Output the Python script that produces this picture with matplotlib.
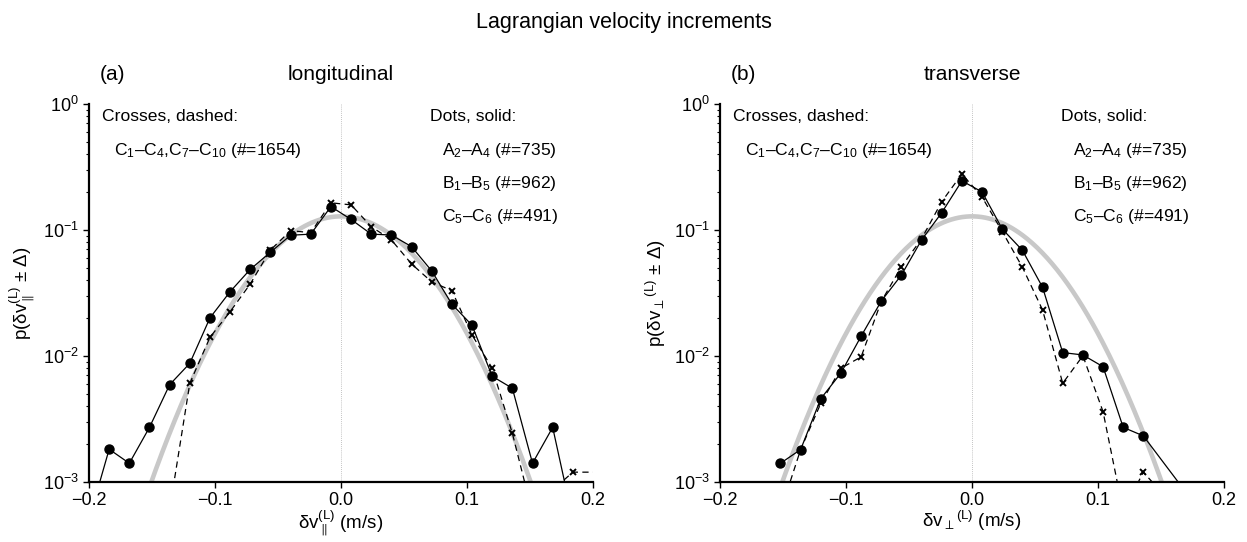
import numpy as np
import matplotlib
matplotlib.use('Agg')
import matplotlib.pyplot as plt
from matplotlib.ticker import LogLocator, FixedLocator, FuncFormatter

plt.rcParams['font.family'] = ['Liberation Sans', 'DejaVu Sans']
plt.rcParams['mathtext.fontset'] = 'custom'
plt.rcParams['mathtext.rm'] = 'Liberation Sans'
plt.rcParams['mathtext.it'] = 'Liberation Sans'
plt.rcParams['mathtext.bf'] = 'Liberation Sans:bold'
plt.rcParams['axes.unicode_minus'] = True

# --- data (bin centres in m/s, probability per bin) ---
# (a) longitudinal
long_dots_x = [-0.2, -0.184, -0.168, -0.152, -0.136, -0.12, -0.104, -0.088,
               -0.072, -0.056, -0.04, -0.024, -0.008, 0.008, 0.024, 0.04,
               0.056, 0.072, 0.088, 0.104, 0.12, 0.136, 0.152, 0.168, 0.184]
long_dots_y = [5e-4, 1.81e-3, 1.40e-3, 2.70e-3, 5.89e-3, 8.71e-3, 2.0e-2,
               3.23e-2, 4.86e-2, 6.64e-2, 9.06e-2, 9.25e-2, 0.153, 0.121,
               0.0925, 0.091, 0.0736, 0.0472, 0.0257, 0.01746, 6.87e-3,
               5.52e-3, 1.40e-3, 2.70e-3, 5e-4]
long_cross_x = [-0.136, -0.12, -0.104, -0.088, -0.072, -0.056, -0.04, -0.024,
                -0.008, 0.008, 0.024, 0.04, 0.056, 0.072, 0.088, 0.104, 0.12,
                0.136, 0.152, 0.168, 0.184, 0.2]
long_cross_y = [6e-4, 6.05e-3, 1.40e-2, 2.24e-2, 3.72e-2, 6.92e-2, 9.86e-2,
                9.5e-2, 0.164, 0.158, 0.106, 0.0832, 0.0536, 0.0386, 0.0329,
                0.01463, 7.96e-3, 2.42e-3, 5.6e-4, 8.6e-4, 1.19e-3, 1.19e-3]

# (b) transverse
trans_dots_x = [-0.152, -0.136, -0.12, -0.104, -0.088, -0.072, -0.056, -0.04,
                -0.024, -0.008, 0.008, 0.024, 0.04, 0.056, 0.072, 0.088,
                0.104, 0.12, 0.136, 0.168]
trans_dots_y = [1.40e-3, 1.80e-3, 4.56e-3, 7.3e-3, 1.43e-2, 2.72e-2, 4.38e-2,
                0.0832, 0.137, 0.245, 0.2, 0.1017, 0.0688, 0.035, 0.0106,
                0.01015, 8.19e-3, 2.70e-3, 2.31e-3, 8.7e-4]
trans_cross_x = [-0.152, -0.136, -0.12, -0.104, -0.088, -0.072, -0.056, -0.04,
                 -0.024, -0.008, 0.008, 0.024, 0.04, 0.056, 0.072, 0.088,
                 0.104, 0.12, 0.136, 0.152]
trans_cross_y = [5.8e-4, 1.8e-3, 4.19e-3, 7.96e-3, 9.8e-3, 2.7e-2, 0.051,
                 0.085, 0.1675, 0.278, 0.182, 0.097, 0.0505, 0.0231, 6.05e-3,
                 1.0e-2, 3.6e-3, 5.8e-4, 1.19e-3, 7.9e-4]

# reference gaussian (grey)
gauss_peak = 0.128
gauss_sigma = 0.0483

panels = [
    dict(tag='(a)', title='longitudinal',
         xlabel=r'$\delta$v$_{\parallel}^{(L)}$ (m/s)',
         ylabel=r'p($\delta$v$_{\parallel}^{(L)}$ $\pm$ $\Delta$)',
         dots=(long_dots_x, long_dots_y), cross=(long_cross_x, long_cross_y)),
    dict(tag='(b)', title='transverse',
         xlabel=r'$\delta$v$_{\perp}{}^{(L)}$ (m/s)',
         ylabel=r'p($\delta$v$_{\perp}{}^{(L)}$ $\pm$ $\Delta$)',
         dots=(trans_dots_x, trans_dots_y), cross=(trans_cross_x, trans_cross_y)),
]

left_text = ['Crosses, dashed:', r'C$_1$–C$_4$,C$_7$–C$_{10}$ (#=1654)']
right_text = ['Dots, solid:', r'A$_2$–A$_4$ (#=735)', r'B$_1$–B$_5$ (#=962)',
              r'C$_5$–C$_6$ (#=491)']


def log_fmt(v, pos):
    e = int(round(np.log10(v)))
    return r'10$^{%s}$' % ('−%d' % -e if e < 0 else '%d' % e)


fig = plt.figure(figsize=(12.47, 5.42), dpi=100)
fig.text(0.5, 0.959, 'Lagrangian velocity increments', ha='center',
         va='center', fontsize=15.5)

lefts = [89 / 1247, 720 / 1247]
for p, l in zip(panels, lefts):
    ax = fig.add_axes([l, 0.1113, 504 / 1247, 0.6969])
    ax.set_yscale('log')
    ax.set_xlim(-0.2, 0.2)
    ax.set_ylim(1e-3, 1)

    xs = np.linspace(-0.2, 0.2, 400)
    ax.plot(xs, gauss_peak * np.exp(-xs**2 / (2 * gauss_sigma**2)),
            color='#c8c8c8', lw=3.3, solid_capstyle='butt', zorder=1)
    ax.axvline(0, color='#b0b0b0', lw=0.6, ls=(0, (1, 1.5)), zorder=0)

    dx, dy = p['dots']
    ax.plot(dx, dy, color='black', lw=0.9, marker='o', ms=6.5, zorder=3)
    cx, cy = p['cross']
    vis = [i for i, v in enumerate(cx) if v < 0.2]
    ax.plot(cx, cy, color='black', lw=0.9, ls=(0, (5, 3.5)), marker='x',
            ms=5, mew=1.4, markevery=vis, zorder=4)

    for s in ['top', 'right']:
        ax.spines[s].set_visible(False)
    for s in ['left', 'bottom']:
        ax.spines[s].set_linewidth(1.6)

    ax.xaxis.set_major_locator(FixedLocator([-0.2, -0.1, 0.0, 0.1, 0.2]))
    ax.xaxis.set_major_formatter(FuncFormatter(
        lambda v, pos: ('%.1f' % v).replace('-', '−')))
    ax.yaxis.set_major_locator(LogLocator(base=10, numticks=10))
    ax.yaxis.set_minor_locator(LogLocator(base=10, subs=np.arange(2, 10),
                                          numticks=10))
    ax.yaxis.set_major_formatter(FuncFormatter(log_fmt))
    ax.tick_params(axis='both', which='major', length=4.5, width=1,
                   labelsize=13, pad=3)
    ax.tick_params(axis='y', which='minor', length=2.5, width=0.8)

    ax.set_xlabel(p['xlabel'], fontsize=13.5, labelpad=0)
    ax.set_ylabel(p['ylabel'], fontsize=13.5, labelpad=4)

    ax.text(0.022, 1.077, p['tag'], transform=ax.transAxes, fontsize=15,
            va='center', ha='left')
    ax.text(0.5, 1.077, p['title'], transform=ax.transAxes, fontsize=15,
            va='center', ha='center')

    ax.text(0.025, 0.967, left_text[0], transform=ax.transAxes, fontsize=12.6,
            va='center')
    ax.text(0.0496, 0.876, left_text[1], transform=ax.transAxes, fontsize=12.6,
            va='center')
    ax.text(0.677, 0.967, right_text[0], transform=ax.transAxes, fontsize=12.6,
            va='center')
    for k, t in enumerate(right_text[1:]):
        ax.text(0.70, 0.876 - k * 0.0865, t, transform=ax.transAxes,
                fontsize=12.6, va='center')

fig.savefig('out.png', dpi=100)
